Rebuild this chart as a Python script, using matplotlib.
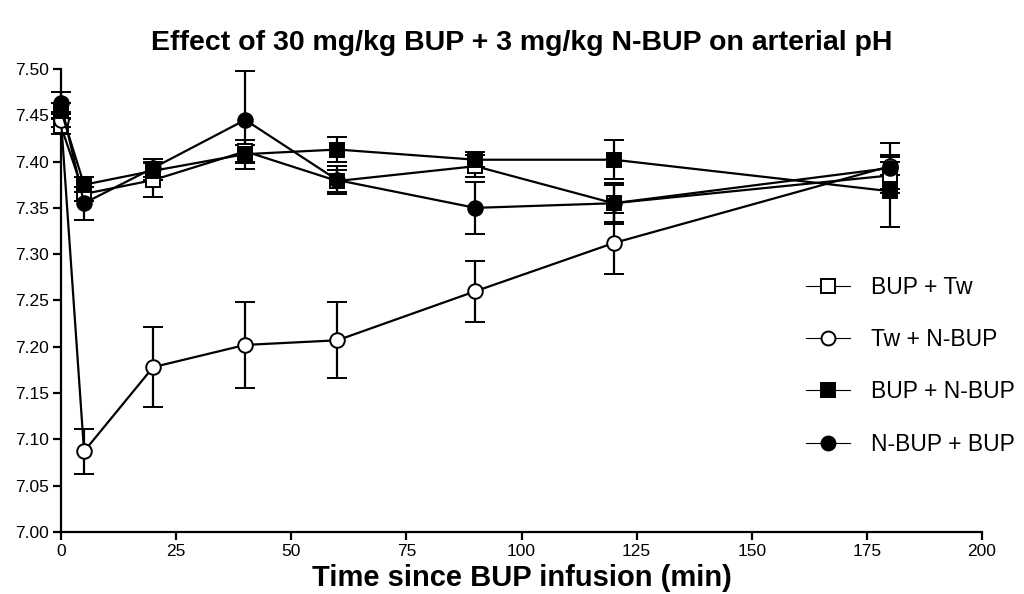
import numpy as np
import matplotlib.pyplot as plt

plt.rcParams['font.family'] = ['Liberation Sans', 'DejaVu Sans']

# time points (min)
time = [0, 5, 20, 40, 60, 90, 120, 180]

# mean arterial pH for each group
bup_tw = [7.438, 7.365, 7.380, 7.411, 7.379, 7.395, 7.355, 7.385]
bup_tw_err = [0.008, 0.008, 0.018, 0.012, 0.012, 0.012, 0.020, 0.015]

tw_nbup = [7.445, 7.087, 7.178, 7.202, 7.207, 7.260, 7.312, 7.395]
tw_nbup_err = [0.008, 0.024, 0.043, 0.046, 0.041, 0.033, 0.033, 0.010]

bup_nbup = [7.455, 7.375, 7.390, 7.408, 7.413, 7.402, 7.402, 7.368]
bup_nbup_err = [0.008, 0.008, 0.010, 0.010, 0.013, 0.008, 0.021, 0.039]

nbup_bup = [7.463, 7.355, 7.393, 7.445, 7.380, 7.350, 7.355, 7.393]
nbup_bup_err = [0.012, 0.018, 0.010, 0.053, 0.015, 0.028, 0.022, 0.027]

labels = ['BUP + Tw', 'Tw + N-BUP', 'BUP + N-BUP', 'N-BUP + BUP']

fig = plt.figure(figsize=(10.24, 5.94), dpi=100)
ax = fig.add_axes([0.0596, 0.1044, 0.8994, 0.7795])

series = [
    (bup_tw, bup_tw_err, 's', 'white'),
    (tw_nbup, tw_nbup_err, 'o', 'white'),
    (bup_nbup, bup_nbup_err, 's', 'black'),
    (nbup_bup, nbup_bup_err, 'o', 'black'),
]

handles = []
for (vals, err, mk, fc), lab in zip(series, labels):
    ax.errorbar(time, vals, yerr=err, color='black', linewidth=1.6,
                marker=mk, markersize=10.5, markerfacecolor=fc,
                markeredgecolor='black', markeredgewidth=1.4,
                capsize=7, capthick=1.6, elinewidth=1.6, clip_on=False, zorder=3)
    # legend handle: thin line through the marker
    h, = ax.plot([], [], color='black', linewidth=0.8, marker=mk,
                 markersize=10, markerfacecolor=fc, markeredgecolor='black',
                 markeredgewidth=1.4, label=lab)
    handles.append(h)

ax.set_xlim(0, 200)
ax.set_ylim(7.00, 7.50)
ax.set_xticks(np.arange(0, 201, 25))
ax.set_yticks(np.arange(7.00, 7.501, 0.05))
ax.yaxis.set_major_formatter(plt.FormatStrFormatter('%.2f'))

for s in ['top', 'right']:
    ax.spines[s].set_visible(False)
for s in ['left', 'bottom']:
    ax.spines[s].set_linewidth(1.6)
ax.tick_params(direction='out', length=6, width=1.6, labelsize=12.5, pad=2.5)

ax.set_xlabel('Time since BUP infusion (min)', fontsize=21, fontweight='bold',
              labelpad=4)
ax.set_title('Effect of 30 mg/kg BUP + 3 mg/kg N-BUP on arterial pH',
             fontsize=20.5, fontweight='bold', pad=14)

ax.legend(handles=handles, frameon=False, fontsize=16.5, loc='center left',
          bbox_to_anchor=(0.767, 0.384), bbox_transform=fig.transFigure,
          labelspacing=1.27, handlelength=1.9, handletextpad=0.95)

fig.savefig('out.png', dpi=100)
